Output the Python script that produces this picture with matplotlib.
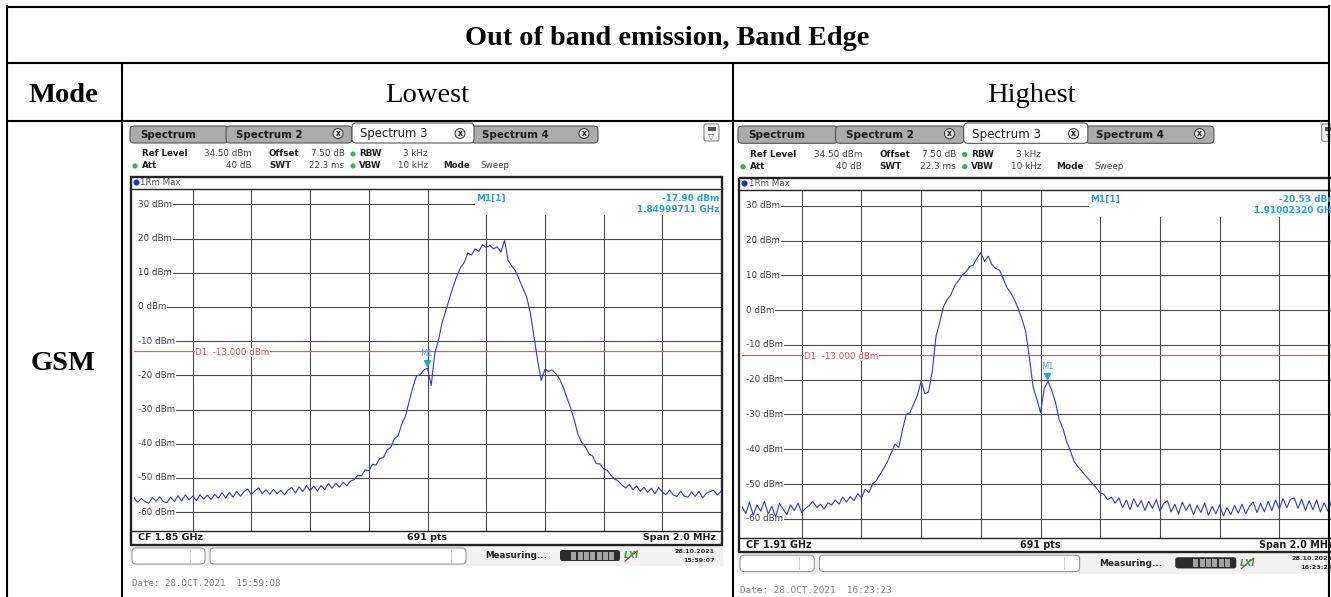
import numpy as np
import matplotlib
matplotlib.use("Agg")
import matplotlib.pyplot as plt
from matplotlib.patches import Rectangle, FancyBboxPatch, Circle

# ---------------- data ----------------
title = "Out of band emission, Band Edge"
header_labels = ["Mode", "Lowest", "Highest"]
row_label = "GSM"

level_ticks = [30, 20, 10, 0, -10, -20, -30, -40, -50, -60]
ref_level = 34.5          # dBm (top of screen)
range_db = 100.0          # 10 dB / div
limit_line = -13.0        # D1 line, dBm
span_mhz = 2.0
sweep_pts_label = "691 pts"

low_cf_mhz = 1850.0
high_cf_mhz = 1910.0
low_marker_freq_mhz = 1849.99711
low_marker_level = -17.90
high_marker_freq_mhz = 1910.02320
high_marker_level = -20.53

# trace readings (dBm), evenly spaced over the 2 MHz span
low_trace = [
    -55.8, -57.1, -56.0, -56.9, -57.4, -55.7, -56.8, -55.5, -56.9, -57.2,
    -55.6, -56.9, -55.2, -56.7, -54.9, -56.4, -55.3, -56.6, -54.9, -56.2,
    -55.0, -56.3, -54.8, -55.9, -54.3, -55.8, -54.2, -55.6, -53.9, -55.3,
    -54.0, -53.2, -54.9, -53.7, -52.9, -54.6, -53.4, -54.8, -53.3, -54.6,
    -53.6, -54.9, -53.5, -52.8, -54.4, -52.6, -54.0, -52.2, -53.7, -52.4,
    -53.8, -52.2, -53.4, -51.6, -53.0, -51.5, -52.7, -51.2, -52.3, -50.9,
    -50.5, -49.2, -49.4, -47.6, -47.9, -46.0, -46.2, -44.3, -44.0, -41.8,
    -41.0, -38.5, -37.6, -34.2, -31.9, -27.6, -23.5, -20.2, -19.8, -18.4,
    -17.9, -23.0, -13.5, -9.7, -4.5, -1.0, 2.5, 6.0, 9.0, 11.5,
    13.0, 15.8, 15.2, 17.0, 16.3, 18.2, 17.4, 18.0, 17.0, 17.6,
    16.0, 19.5, 13.5, 12.0, 10.5, 8.0, 5.5, 3.0, -1.5, -8.5,
    -15.5, -21.5, -18.2, -18.8, -18.4, -19.5, -21.0, -23.5, -26.5, -29.5,
    -33.0, -37.2, -39.6, -40.8, -42.9, -43.6, -45.8, -45.9, -47.3, -47.8,
    -49.2, -50.3, -50.9, -52.1, -52.9, -51.9, -53.4, -52.3, -53.9, -52.7,
    -54.2, -53.0, -54.6, -52.8, -54.1, -54.9, -53.5, -55.0, -55.4, -53.9,
    -55.3, -55.6, -54.1, -55.4, -53.9, -55.8, -54.5, -54.0, -53.6, -55.0,
    -53.9,
]

high_trace = [
    -56.5, -58.5, -55.2, -59.0, -56.0, -57.8, -55.0, -58.6, -56.4, -59.5,
    -55.6, -57.2, -58.8, -56.0, -57.6, -55.5, -58.2, -57.0, -56.2, -55.0,
    -56.8, -55.8, -57.2, -55.4, -56.0, -54.6, -55.8, -53.8, -55.2, -53.6,
    -54.8, -52.8, -54.0, -51.5, -52.5, -50.0, -49.0, -47.2, -45.5, -43.5,
    -41.0, -38.5, -39.5, -34.5, -30.0, -29.5, -27.0, -24.5, -20.5, -24.0,
    -23.5, -17.5, -7.5, -3.5, 1.0, 3.0, 4.5, 7.0, 8.5, 10.0,
    11.0, 12.5, 13.0, 15.0, 16.5, 14.0, 15.5, 13.0, 12.0, 11.5,
    9.0, 6.5, 5.0, 3.0, 0.5, -2.5, -6.0, -13.5, -22.0, -25.5,
    -29.5, -22.5, -20.5, -23.0, -26.5, -31.5, -34.0, -37.8, -40.5, -43.5,
    -45.0, -46.2, -47.5, -48.7, -50.0, -51.2, -52.5, -53.0, -54.5, -53.8,
    -55.5, -54.0, -56.8, -54.6, -57.4, -54.2, -56.6, -54.8, -57.6, -55.0,
    -57.0, -54.5, -57.8, -55.6, -54.8, -58.0, -55.8, -58.6, -55.2, -57.6,
    -55.8, -58.8, -56.2, -58.2, -55.4, -59.0, -56.4, -58.6, -56.0, -59.2,
    -56.8, -58.8, -56.2, -58.4, -55.8, -58.6, -56.4, -55.2, -58.2, -55.6,
    -58.0, -55.0, -57.6, -54.6, -57.2, -54.2, -56.8, -54.4, -54.0, -57.0,
    -54.4, -57.6, -54.8, -57.4, -54.6, -58.0, -55.4, -57.8, -55.0, -57.4,
    -56.0,
]

low_stamp = ("28.10.2021", "15:59:07", "Date: 28.OCT.2021  15:59:08")
high_stamp = ("28.10.2021", "16:23:22", "Date: 28.OCT.2021  16:23:23")

# ---------------- figure ----------------
W, H = 1331, 597
fig = plt.figure(figsize=(W / 100, H / 100), dpi=100)
fig.patch.set_facecolor("white")

bg = fig.add_axes([0, 0, 1, 1], zorder=0)
bg.set_xlim(0, W); bg.set_ylim(H, 0); bg.axis("off")
ov = fig.add_axes([0, 0, 1, 1], zorder=20)
ov.set_xlim(0, W); ov.set_ylim(H, 0); ov.axis("off")
ov.patch.set_alpha(0)

SERIF = "Liberation Serif"
UI = "DejaVu Sans"
MONO = "DejaVu Sans Mono"
TRACE_C = "#2f3cc8"
GRID_C = "#4a4a4a"
MK_C = "#2a9fd6"
RED_C = "#e0605e"


def draw_panel(x0, s, cf_mhz, trace, mk_f, mk_l, stamp, prog_dark):
    def T(x, y):
        return x0 + (x - 132) * s, 124 + (y - 124) * s

    def t(ax_, x, y, txt, size, **kw):
        X, Y = T(x, y)
        ax_.text(X, Y, txt, fontsize=size * s, **kw)

    # ----- tabs -----
    tabs = [(130, 228, "Spectrum", False, False),
            (226, 352, "Spectrum 2", True, False),
            (472, 598, "Spectrum 4", True, False),
            (352, 474, "Spectrum 3", True, True)]
    for xa, xb, lab, closable, active in tabs:
        ya = 123 if active else 126
        X, Y = T(xa, ya)
        p = FancyBboxPatch((X, Y), (xb - xa) * s, (143 - ya) * s,
                           boxstyle=f"round,pad=0,rounding_size={4*s}",
                           fc="white" if active else "#ababab",
                           ec="#555555", lw=0.8, zorder=2 if active else 1)
        bg.add_patch(p)
        if active:
            t(bg, xa + 8, 134, lab, 8.4, color="#1a1a1a", va="center", family=UI, zorder=3)
        else:
            t(bg, xa + 10, 134.5, lab, 7.4, color="#1a1a1a", va="center",
              family=UI, fontweight="bold", zorder=3)
        if closable:
            cx, cy = T(xb - 14, 133.5)
            bg.add_patch(Circle((cx, cy), 5 * s, fc="#e2e2e2", ec="#333333", lw=0.7, zorder=3))
            bg.text(cx, cy + 0.3, "x", fontsize=5.5, ha="center", va="center",
                    fontweight="bold", color="#222222", family=UI, zorder=4)
    # small icon top right
    X, Y = T(704, 124)
    bg.add_patch(FancyBboxPatch((X, Y), 15 * s, 17 * s, boxstyle="round,pad=0,rounding_size=2",
                                fc="#f6f6f6", ec="#7a7a7a", lw=0.7, zorder=2))
    X, Y = T(707.5, 127)
    bg.add_patch(Rectangle((X, Y), 8 * s, 3.5 * s, fc="#555555", ec="none", zorder=3))
    t(bg, 711.5, 136, "\u25bd", 6, ha="center", va="center", color="#555555", family=UI, zorder=3)

    # ----- settings -----
    dark, grey = "#1e1e1e", "#454545"
    row1 = [(142, "Ref Level", True, "left"), (252, "34.50 dBm", False, "right"),
            (269, "Offset", True, "left"), (345, "7.50 dB", False, "right"),
            (359, "RBW", True, "left"), (428, "3 kHz", False, "right")]
    row2 = [(142, "Att", True, "left"), (251.5, "40 dB", False, "right"),
            (269, "SWT", True, "left"), (344, "22.3 ms", False, "right"),
            (359, "VBW", True, "left"), (428, "10 kHz", False, "right"),
            (443, "Mode", True, "left"), (480, "Sweep", False, "left")]
    for yy, row in ((154, row1), (166, row2)):
        for xx, txt, bold, ha in row:
            t(bg, xx, yy, txt, 6.3, ha=ha, va="center", family=UI,
              fontweight="bold" if bold else "normal", color=dark if bold else grey)
    for (xx, yy) in ((353, 154), (353, 166), (135, 166)):
        X, Y = T(xx, yy)
        bg.add_patch(Circle((X, Y), 2.6 * s, fc="#3fb04c", ec="none"))

    # ----- trace header -----
    X, Y = T(136.5, 182.5)
    bg.add_patch(Circle((X, Y), 3 * s, fc="#1f2fbf", ec="none"))
    t(bg, 140.5, 182.5, "1Rm Max", 6.2, va="center", color="#555555", family=UI)

    # ----- diagram -----
    L, Tp = T(134, 189)
    R, B = T(721, 531)
    ax = fig.add_axes([L / W, 1 - B / H, (R - L) / W, (B - Tp) / H], zorder=5)
    f0, f1 = cf_mhz - span_mhz / 2, cf_mhz + span_mhz / 2
    ylo, yhi = ref_level - range_db, ref_level
    ax.set_xlim(f0, f1); ax.set_ylim(ylo, yhi)
    ax.axis("off")
    box_f = f0 + (474 - 134) / 587 * span_mhz
    box_bot = ref_level - (215 - 189) / 3.42
    lab_frac = 0.006
    line_start = f0 + lab_frac * span_mhz
    divs = np.linspace(f0, f1, 11)[1:-1]
    for fd in divs:
        if fd < box_f:
            ax.plot([fd, fd], [ylo, yhi], color=GRID_C, lw=0.8, zorder=1)
        else:
            ax.plot([fd, fd], [ylo, box_bot], color=GRID_C, lw=0.8, zorder=1)
    for lv in level_ticks:
        if lv > box_bot:
            ax.plot([line_start, box_f], [lv, lv], color=GRID_C, lw=0.8, zorder=1)
        else:
            ax.plot([line_start, f1], [lv, lv], color=GRID_C, lw=0.8, zorder=1)
        ax.text(lab_frac, lv, f"{lv} dBm", transform=ax.get_yaxis_transform(),
                fontsize=6.3, color="#404040", va="center", ha="left", family=UI,
                bbox=dict(fc="white", ec="none", pad=0.8), zorder=3)
    ax.plot([f0, f1], [limit_line, limit_line], color=RED_C, lw=0.9, zorder=2)
    ax.text(0.104, limit_line - 0.3, "D1  -13.000 dBm", transform=ax.get_yaxis_transform(),
            fontsize=6.3, color="#e05050", va="center", ha="left", family=UI,
            bbox=dict(fc="white", ec="none", pad=0.2), zorder=3)
    freqs = np.linspace(f0, f1, len(trace))
    ax.plot(freqs, trace, color=TRACE_C, lw=0.8, zorder=4)
    ax.plot([mk_f], [mk_l + 1.5], marker="v", ms=4.2, color=MK_C, mec=MK_C, zorder=5)
    ax.text(mk_f, mk_l + 3.0, "M1", ha="center", va="bottom", fontsize=6,
            color="#4aaed8", family=UI, zorder=5)

    # marker readout (overlay)
    t(ov, 476, 198.5, "M1[1]", 6.4, color=MK_C, va="center", family=UI, fontweight="bold")
    t(ov, 719, 198.5, f"{mk_l:.2f} dBm", 6.4, color=MK_C, va="center", ha="right",
      family=UI, fontweight="bold")
    t(ov, 719, 209.5, f"{mk_f / 1000:.8f} GHz", 6.4, color=MK_C, va="center", ha="right",
      family=UI, fontweight="bold")

    # frame (overlay)
    X0, Y0 = T(131, 177)
    X1, Y1 = T(722, 545)
    ov.add_patch(Rectangle((X0, Y0), X1 - X0, Y1 - Y0, fc="none", ec="#222222", lw=1.7))
    for yy in (189, 531):
        a, b = T(131, yy); c, _ = T(722, yy)
        ov.plot([a, c], [b, b], color="#222222", lw=1.0)

    # ----- footer row -----
    t(bg, 138, 538, f"CF {cf_mhz / 1000:.2f} GHz", 6.8, va="center", fontweight="bold",
      color="#1a1a1a", family=UI)
    t(bg, 427.5, 538, sweep_pts_label, 6.8, va="center", ha="center", fontweight="bold",
      color="#1a1a1a", family=UI)
    t(bg, 716, 538, f"Span {span_mhz:.1f} MHz", 6.8, va="center", ha="right",
      fontweight="bold", color="#1a1a1a", family=UI)

    # ----- status bar -----
    X, Y = T(129, 546)
    bg.add_patch(Rectangle((X, Y), 594 * s, 20 * s, fc="#f1f1f1", ec="none", zorder=0.5))
    for xa, xb, dv in ((132, 205, 190), (210, 466, 451)):
        X, Y = T(xa, 548)
        bg.add_patch(FancyBboxPatch((X, Y), (xb - xa) * s, 16 * s,
                                    boxstyle="round,pad=0,rounding_size=4",
                                    fc="white", ec="#8e8e8e", lw=0.7, zorder=1))
        a, b = T(dv, 550); _, d = T(dv, 562)
        bg.plot([a, a], [b, d], color="#cfcfcf", lw=0.7, zorder=2)
    t(bg, 485, 556, "Measuring...", 6.3, va="center", fontweight="bold",
      color="#202020", family=UI)
    X, Y = T(560, 550)
    bg.add_patch(FancyBboxPatch((X, Y), 60 * s, 11 * s, boxstyle="round,pad=0,rounding_size=2.5",
                                fc="#2b2b2b", ec="none", zorder=1))
    for k in range(8):
        X, Y = T(565 + k * 6.3, 551.5)
        col = "#2b2b2b" if k < prog_dark else "#a3a3a3"
        bg.add_patch(Rectangle((X, Y), 5 * s, 8 * s, fc=col, ec="none", zorder=2))
    t(bg, 631, 556, "LXI", 6.2, va="center", ha="center", fontweight="bold",
      style="italic", color="#3c9c3c", family=UI)
    a, b = T(625, 561); c, d = T(637, 551)
    bg.plot([a, c], [b, d], color="#d03030", lw=0.9)
    t(bg, 715, 551.5, stamp[0], 4.6, va="center", ha="right", fontweight="bold",
      color="#303030", family=UI)
    t(bg, 715, 560, stamp[1], 4.6, va="center", ha="right", fontweight="bold",
      color="#303030", family=UI)
    t(bg, 132, 583, stamp[2], 6.6, va="center", ha="left", color="#808080", family=MONO)


draw_panel(132, 1.0, low_cf_mhz, low_trace, low_marker_freq_mhz, low_marker_level, low_stamp, 1)
draw_panel(740, 1.017, high_cf_mhz, high_trace, high_marker_freq_mhz, high_marker_level,
           high_stamp, 2)

# ---------------- table ----------------
LW = 1.5
for y in (7, 63, 121):
    ov.plot([6, 1329], [y, y], color="black", lw=LW, solid_capstyle="butt")
ov.plot([7, 7], [6, H], color="black", lw=LW)
ov.plot([1329, 1329], [6, H], color="black", lw=LW)
for x in (122, 733):
    ov.plot([x, x], [63, H], color="black", lw=LW)

bg.text(667.5, 45, title, ha="center", va="baseline", fontsize=20.3,
        fontweight="bold", family=SERIF)
bg.text(63.5, 101.5, header_labels[0], ha="center", va="baseline", fontsize=20.5,
        fontweight="bold", family=SERIF)
bg.text(427.5, 101.5, header_labels[1], ha="center", va="baseline", fontsize=20.5,
        family=SERIF)
bg.text(1031, 101.5, header_labels[2], ha="center", va="baseline", fontsize=20.5,
        family=SERIF)
bg.text(63.5, 370.5, row_label, ha="center", va="baseline", fontsize=20.5,
        fontweight="bold", family=SERIF)

fig.savefig("out.png", dpi=100)
